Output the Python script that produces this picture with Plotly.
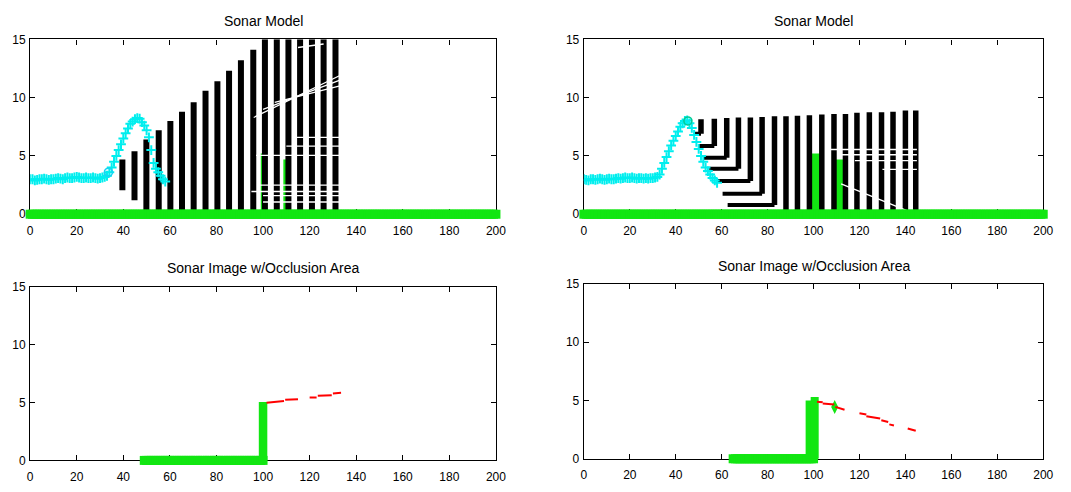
import plotly.graph_objects as go

# ---------------- data ----------------
terrain_x = list(range(0, 59))
terrain_left_y = [3.0, 3.0, 2.9, 2.95, 3.0, 3.0, 3.05, 3.0, 2.95, 3.0,
                  3.0, 3.05, 3.1, 3.05, 3.0, 3.1, 3.15, 3.1, 3.1, 3.15,
                  3.2, 3.15, 3.1, 3.1, 3.15, 3.1, 3.1, 3.15, 3.1, 3.05,
                  3.1, 3.15, 3.2, 3.3, 3.6, 4.0, 4.5, 5.0, 5.5, 6.0,
                  6.5, 6.95, 7.35, 7.75, 7.95, 8.15, 8.25, 8.2, 7.9, 7.6,
                  7.2, 6.6, 5.5, 4.4, 3.9, 3.6, 3.3, 3.0, 2.8]
terrain_right_y = [3.0, 2.95, 2.9, 3.0, 3.0, 2.95, 3.0, 3.05, 3.0, 2.95,
                   3.0, 3.05, 3.0, 3.0, 3.05, 3.1, 3.05, 3.1, 3.15, 3.1,
                   3.1, 3.15, 3.1, 3.05, 3.1, 3.1, 3.05, 3.1, 3.05, 3.1,
                   3.1, 3.15, 3.2, 3.4, 3.9, 4.4, 4.9, 5.4, 5.9, 6.3,
                   6.7, 7.1, 7.5, 7.8, 8.0, 8.05, 7.8, 7.4, 6.8, 6.2,
                   5.6, 5.0, 4.5, 4.0, 3.7, 3.4, 3.1, 2.9, 2.7]

sonar_left_x, sonar_left_y = [33.6], [3.6]
sonar_right_x, sonar_right_y = [45.3], [8.0]

# top-left sonar beams (vertical strips)
beam_left_x = [39.6, 44.8, 49.9, 55.2, 60.2, 65.2, 70.2, 75.3, 80.4, 85.4,
               90.5, 95.8, 100.8, 105.9, 110.9, 115.9, 121.0, 126.0, 131.1]
beam_left_bottom = [2.05, 1.2, 0.35, 0, 0, 0, 0, 0, 0, 0,
                    0, 0, 0, 0, 0, 0, 0, 0, 0]
beam_left_top = [4.7, 5.4, 6.4, 7.2, 8.0, 8.8, 9.6, 10.6, 11.4, 12.3,
                 13.2, 14.1, 15, 15, 15, 15, 15, 15, 15]

# top-right sonar beams (nested L shapes)
beam_right_x = [51.0, 56.8, 62.2, 67.3, 72.5, 77.6, 83.0, 88.0, 93.0, 98.2,
                103.6, 108.9, 113.9, 118.9, 124.3, 129.6, 134.6, 140.0, 144.5]
beam_right_top = [8.15, 8.2, 8.25, 8.3, 8.3, 8.35, 8.4, 8.4, 8.45, 8.5,
                  8.55, 8.6, 8.6, 8.7, 8.75, 8.75, 8.8, 8.9, 8.9]
beam_right_corner = [6.9, 5.85, 4.85, 3.9, 2.85, 1.75, 0.8, 0.1, 0, 0,
                     0, 0, 0, 0, 0, 0, 0, 0, 0]
beam_right_left = [48.0, 50.0, 52.2, 54.6, 58.0, 60.4, 62.6, 64.7]

# green objects in the scene
object_x = [100.3, 110.0]
object_h = [5.2, 4.7]

# white streaks crossing the beams: (x0, y0, x1, y1)
streaks_left = [(97, 5.05, 133, 5.05), (110, 5.85, 133, 5.85), (114, 6.6, 133, 6.6),
                (98, 2.5, 133, 2.5), (95, 1.95, 133, 1.95), (100, 1.6, 133, 1.6),
                (100, 1.05, 133, 1.05), (96, 8.3, 133, 11.9), (100, 9.0, 133, 11.5),
                (105, 9.6, 133, 11.0), (115, 14.3, 126, 14.6)]
streaks_right = [(106, 5.55, 145, 5.55), (112, 5.1, 145, 5.1), (118, 4.6, 145, 4.6),
                 (130, 3.85, 145, 3.85), (112, 2.6, 142, 0.2)]

# ground line
ground_x = list(range(0, 201))

# occlusion images
occl_left_ground_x = list(range(49, 101))
occl_left_wall_x, occl_left_wall_h = [100.0], [5.05]
occl_left_red = [(101.5, 5.0, 109, 5.15), (109.5, 5.25, 115, 5.3),
                 (120, 5.45, 123, 5.45), (123.5, 5.6, 129.5, 5.65),
                 (130, 5.8, 133.5, 5.85)]

occl_right_ground_x = list(range(65, 101))
occl_right_wall_x, occl_right_wall_h = [98.3, 100.5], [5.0, 5.3]
occl_right_mark_x, occl_right_mark_y = [109.2], [4.45]
occl_right_red = [(101.5, 4.9, 104, 4.85), (104, 4.75, 109, 4.65),
                  (109.5, 4.45, 113.5, 4.2), (120, 3.9, 123, 3.8),
                  (123, 3.65, 129, 3.45), (129.5, 3.3, 132.5, 3.15),
                  (133, 2.95, 135, 2.85), (141, 2.6, 144.5, 2.4)]

x_ticks = list(range(0, 201, 20))
y_ticks = [0, 5, 10, 15]
titles_top = "Sonar Model"
titles_bottom = "Sonar Image w/Occlusion Area"

# ---------------- styles ----------------
GREEN = "#12e612"
CYAN = "#00eeee"
FONT = "Liberation Sans, Arial"
W, H = 1071, 492
dom = {
    1: ([27.5 / W, 499 / W], [1 - 213.3 / H, 1 - 33.3 / H]),
    2: ([588 / W, 1053 / W], [1 - 213.3 / H, 1 - 33.3 / H]),
    3: ([27.5 / W, 499 / W], [1 - 466.7 / H, 1 - 288.3 / H]),
    4: ([588 / W, 1053 / W], [1 - 465 / H, 1 - 285 / H]),
}


def seg_xy(segs):
    xs, ys = [], []
    for x0, y0, x1, y1 in segs:
        xs += [x0, x1, None]
        ys += [y0, y1, None]
    return xs, ys


def vlines(xs, y0s, y1s):
    X, Y = [], []
    for x, a, b in zip(xs, y0s, y1s):
        X += [x, x, None]
        Y += [a, b, None]
    return X, Y


fig = go.Figure()


def add(trace, k):
    sfx = "" if k == 1 else str(k)
    trace.update(xaxis="x" + sfx, yaxis="y" + sfx, showlegend=False, hoverinfo="skip")
    fig.add_trace(trace)


def ground(xs, k):
    add(go.Scatter(x=xs, y=[0.0] * len(xs), mode="markers", cliponaxis=False,
                   marker=dict(symbol="square", size=9, color=GREEN, line=dict(width=0))), k)


# ---- top-left ----
ox, oy = vlines(object_x, [0, 0], object_h)
add(go.Scatter(x=ox, y=oy, mode="lines", line=dict(color=GREEN, width=6)), 1)
bx, by = vlines(beam_left_x, beam_left_bottom, beam_left_top)
add(go.Scatter(x=bx, y=by, mode="lines", line=dict(color="black", width=6)), 1)
sx, sy = seg_xy(streaks_left)
add(go.Scatter(x=sx, y=sy, mode="lines", line=dict(color="white", width=1.3)), 1)
add(go.Scatter(x=terrain_x, y=terrain_left_y, mode="markers",
               marker=dict(symbol="cross-thin", size=7, line=dict(color=CYAN, width=2))), 1)
ground(ground_x, 1)
add(go.Scatter(x=sonar_left_x, y=sonar_left_y, mode="markers",
               marker=dict(symbol="circle-open", size=8, line=dict(color="blue", width=1.6))), 1)

# ---- top-right ----
ox2, oy2 = vlines([101.0, 111.0], [0, 0], object_h)
add(go.Scatter(x=ox2, y=oy2, mode="lines", line=dict(color=GREEN, width=9)), 2)
bx, by = vlines(beam_right_x, beam_right_corner, beam_right_top)
add(go.Scatter(x=bx, y=by, mode="lines", line=dict(color="black", width=5.5)), 2)
hx, hy = [], []
for xl, xr, yc in zip(beam_right_left, beam_right_x, beam_right_corner):
    hx += [xl, xr, None]
    hy += [yc, yc, None]
add(go.Scatter(x=hx, y=hy, mode="lines", line=dict(color="black", width=4)), 2)
sx, sy = seg_xy(streaks_right)
add(go.Scatter(x=sx, y=sy, mode="lines", line=dict(color="white", width=1.3)), 2)
add(go.Scatter(x=terrain_x, y=terrain_right_y, mode="markers",
               marker=dict(symbol="cross-thin", size=7, line=dict(color=CYAN, width=2))), 2)
ground(ground_x, 2)
add(go.Scatter(x=sonar_right_x, y=sonar_right_y, mode="markers",
               marker=dict(symbol="circle-open", size=8, line=dict(color="blue", width=1.6))), 2)

# ---- bottom-left ----
ground(occl_left_ground_x, 3)
wx, wy = vlines(occl_left_wall_x, [0], occl_left_wall_h)
add(go.Scatter(x=wx, y=wy, mode="lines", line=dict(color=GREEN, width=8.5)), 3)
rx, ry = seg_xy(occl_left_red)
add(go.Scatter(x=rx, y=ry, mode="lines", line=dict(color="red", width=2)), 3)

# ---- bottom-right ----
ground(occl_right_ground_x, 4)
wx, wy = vlines(occl_right_wall_x, [0, 0], occl_right_wall_h)
add(go.Scatter(x=wx, y=wy, mode="lines", line=dict(color=GREEN, width=8)), 4)
add(go.Scatter(x=occl_right_mark_x, y=occl_right_mark_y, mode="markers",
               marker=dict(symbol="diamond-tall", size=10, color=GREEN)), 4)
rx, ry = seg_xy(occl_right_red)
add(go.Scatter(x=rx, y=ry, mode="lines", line=dict(color="red", width=2)), 4)

axis_common = dict(showline=True, linecolor="black", linewidth=1.4, mirror="ticks",
                   ticks="inside", ticklen=5, tickwidth=1.4, tickcolor="black",
                   showgrid=False, zeroline=False, layer="below traces",
                   tickfont=dict(family=FONT, size=12, color="black"),
                   fixedrange=True)
layout = dict(width=W, height=H, autosize=False, margin=dict(l=0, r=0, t=0, b=0),
              plot_bgcolor="white", paper_bgcolor="white")
for k in range(1, 5):
    sfx = "" if k == 1 else str(k)
    xd, yd = dom[k]
    layout["xaxis" + sfx] = dict(axis_common, domain=xd, range=[0, 200], tickvals=x_ticks,
                                 anchor="y" + sfx, ticklabelstandoff=5)
    layout["yaxis" + sfx] = dict(axis_common, domain=yd, range=[0, 15], tickvals=y_ticks,
                                 anchor="x" + sfx, ticklabelstandoff=1)
fig.update_layout(**layout)

ann = []
for k, txt, yc in [(1, titles_top, 14), (2, titles_top, 14), (3, titles_bottom, 269), (4, titles_bottom, 267)]:
    xd, _ = dom[k]
    ann.append(dict(text=txt, x=(xd[0] + xd[1]) / 2, y=1 - yc / H, xref="paper", yref="paper",
                    xanchor="center", yanchor="middle", showarrow=False,
                    font=dict(family=FONT, size=14, color="black")))
fig.update_layout(annotations=ann)

fig.write_html("out.html")
